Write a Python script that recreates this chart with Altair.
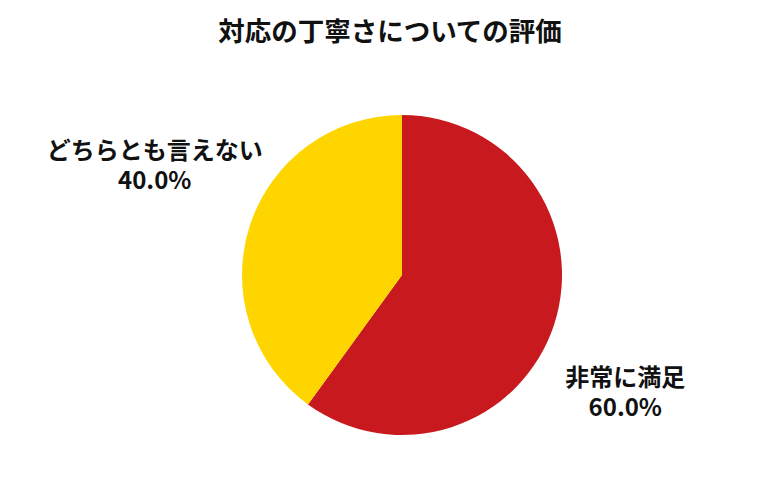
import altair as alt
import pandas as pd

categories = ["非常に満足", "どちらとも言えない"]
values = [60.0, 40.0]
colors = ["#C8191E", "#FFD500"]
title_text = "対応の丁寧さについての評価"

df = pd.DataFrame({
    "cat": categories,
    "val": values,
    "order": [0, 1],
})
df["label"] = df["cat"] + "\n" + df["val"].map(lambda v: f"{v:.1f}%")

FONT = "Noto Sans CJK JP"
CX, CY = 394, 217
theta_scale = alt.Scale(domain=[0, 100])

pie = alt.Chart(df).mark_arc(outerRadius=160).encode(
    theta=alt.Theta("val:Q", stack=True, scale=theta_scale),
    order=alt.Order("order:Q"),
    color=alt.Color("cat:N", scale=alt.Scale(domain=categories, range=colors), legend=None),
    x=alt.value(CX), y=alt.value(CY),
)

label_base = alt.Chart(df).transform_window(
    cum="sum(val)", sort=[alt.SortField("order")]
).transform_calculate(mid="datum.cum - datum.val / 2")

def label_layer(cat, dx, dy):
    return label_base.transform_filter(alt.datum.cat == cat).mark_text(
        radius=260, font=FONT, fontSize=24, fontWeight="bold", color="#111111",
        lineBreak="\n", lineHeight=30, align="center", baseline="middle", dx=dx, dy=dy,
    ).encode(
        theta=alt.Theta("mid:Q", stack=None, scale=theta_scale),
        text="label:N", x=alt.value(CX), y=alt.value(CY),
    )

lab_right = label_layer("非常に満足", -24, 24)
lab_left = label_layer("どちらとも言えない", 0, -43)

chart = alt.layer(pie, lab_right, lab_left).properties(
    width=764, height=434,
    padding={"top": 50, "left": 0, "right": 0, "bottom": 0},
    autosize=alt.AutoSizeParams(type="none"),
    title=alt.TitleParams(title_text, font=FONT, fontSize=26.5, fontWeight="bold",
                          color="#111111", anchor="middle", offset=12),
).configure(background="white", view=alt.ViewConfig(strokeWidth=0, stroke="transparent"))

chart.save("out.html", embed_options={"renderer": "svg", "actions": False})
